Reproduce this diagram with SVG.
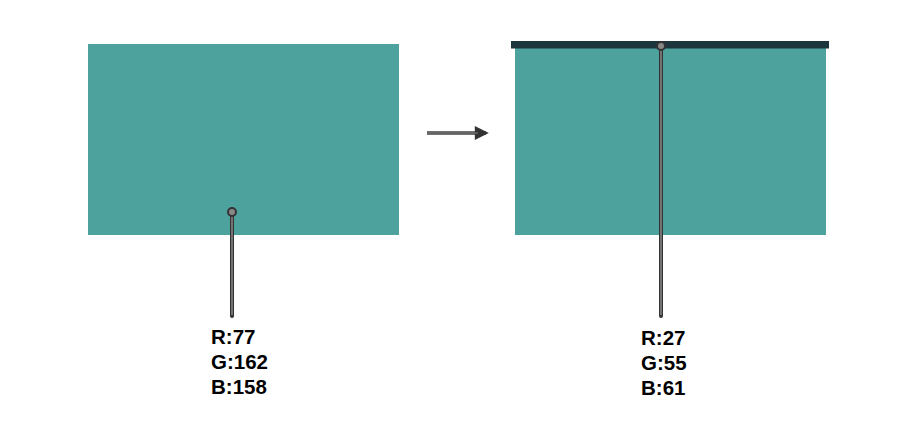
<svg xmlns="http://www.w3.org/2000/svg" width="900" height="441" viewBox="0 0 900 441">
<style>
.teal{fill:#4DA29E}
.lbl{font-family:"Liberation Sans",Arial,sans-serif;font-weight:bold;font-size:20.5px;fill:#000}
.pinO{stroke:#333;stroke-width:4;stroke-linecap:round}
.pinI{stroke:#8a8a8a;stroke-width:1.5}
.ring{fill:#888;stroke:#333;stroke-width:2}
</style>
<defs>
<marker id="ah" viewBox="0 0 10 10" refX="8" refY="5" markerWidth="4.5" markerHeight="4" orient="auto" markerUnits="strokeWidth">
<path d="M0,0 L10,5 L0,10 z" fill="#333"/>
</marker>
</defs>
<rect width="900" height="441" fill="#fff"/>
<g id="before">
<rect class="teal" x="88" y="44" width="311" height="191"/>
</g>
<g id="after">
<rect class="teal" x="515" y="47" width="311" height="188"/>
<rect x="511" y="41" width="318" height="7.5" fill="#1B373D"/>
</g>
<g id="connectors">
<line x1="427" y1="133" x2="486" y2="133" stroke="#444" stroke-width="3.5" marker-end="url(#ah)"/>
<line x1="427" y1="133" x2="478" y2="133" stroke="#888" stroke-width="1"/>
<g id="pin-left">
<line class="pinO" x1="232" y1="214" x2="232" y2="316"/>
<line class="pinI" x1="232" y1="216" x2="232" y2="315"/>
<circle class="ring" cx="232" cy="212" r="4"/>
</g>
<g id="pin-right">
<line class="pinO" x1="661" y1="48" x2="661" y2="316"/>
<line class="pinI" x1="661" y1="50" x2="661" y2="315"/>
<circle class="ring" cx="661" cy="46" r="4"/>
</g>
</g>
<g id="label-left">
<text class="lbl" x="211" y="344">R:77</text>
<text class="lbl" x="211" y="369">G:162</text>
<text class="lbl" x="211" y="394">B:158</text>
</g>
<g id="label-right">
<text class="lbl" x="641" y="345">R:27</text>
<text class="lbl" x="641" y="370">G:55</text>
<text class="lbl" x="641" y="395">B:61</text>
</g>
</svg>
